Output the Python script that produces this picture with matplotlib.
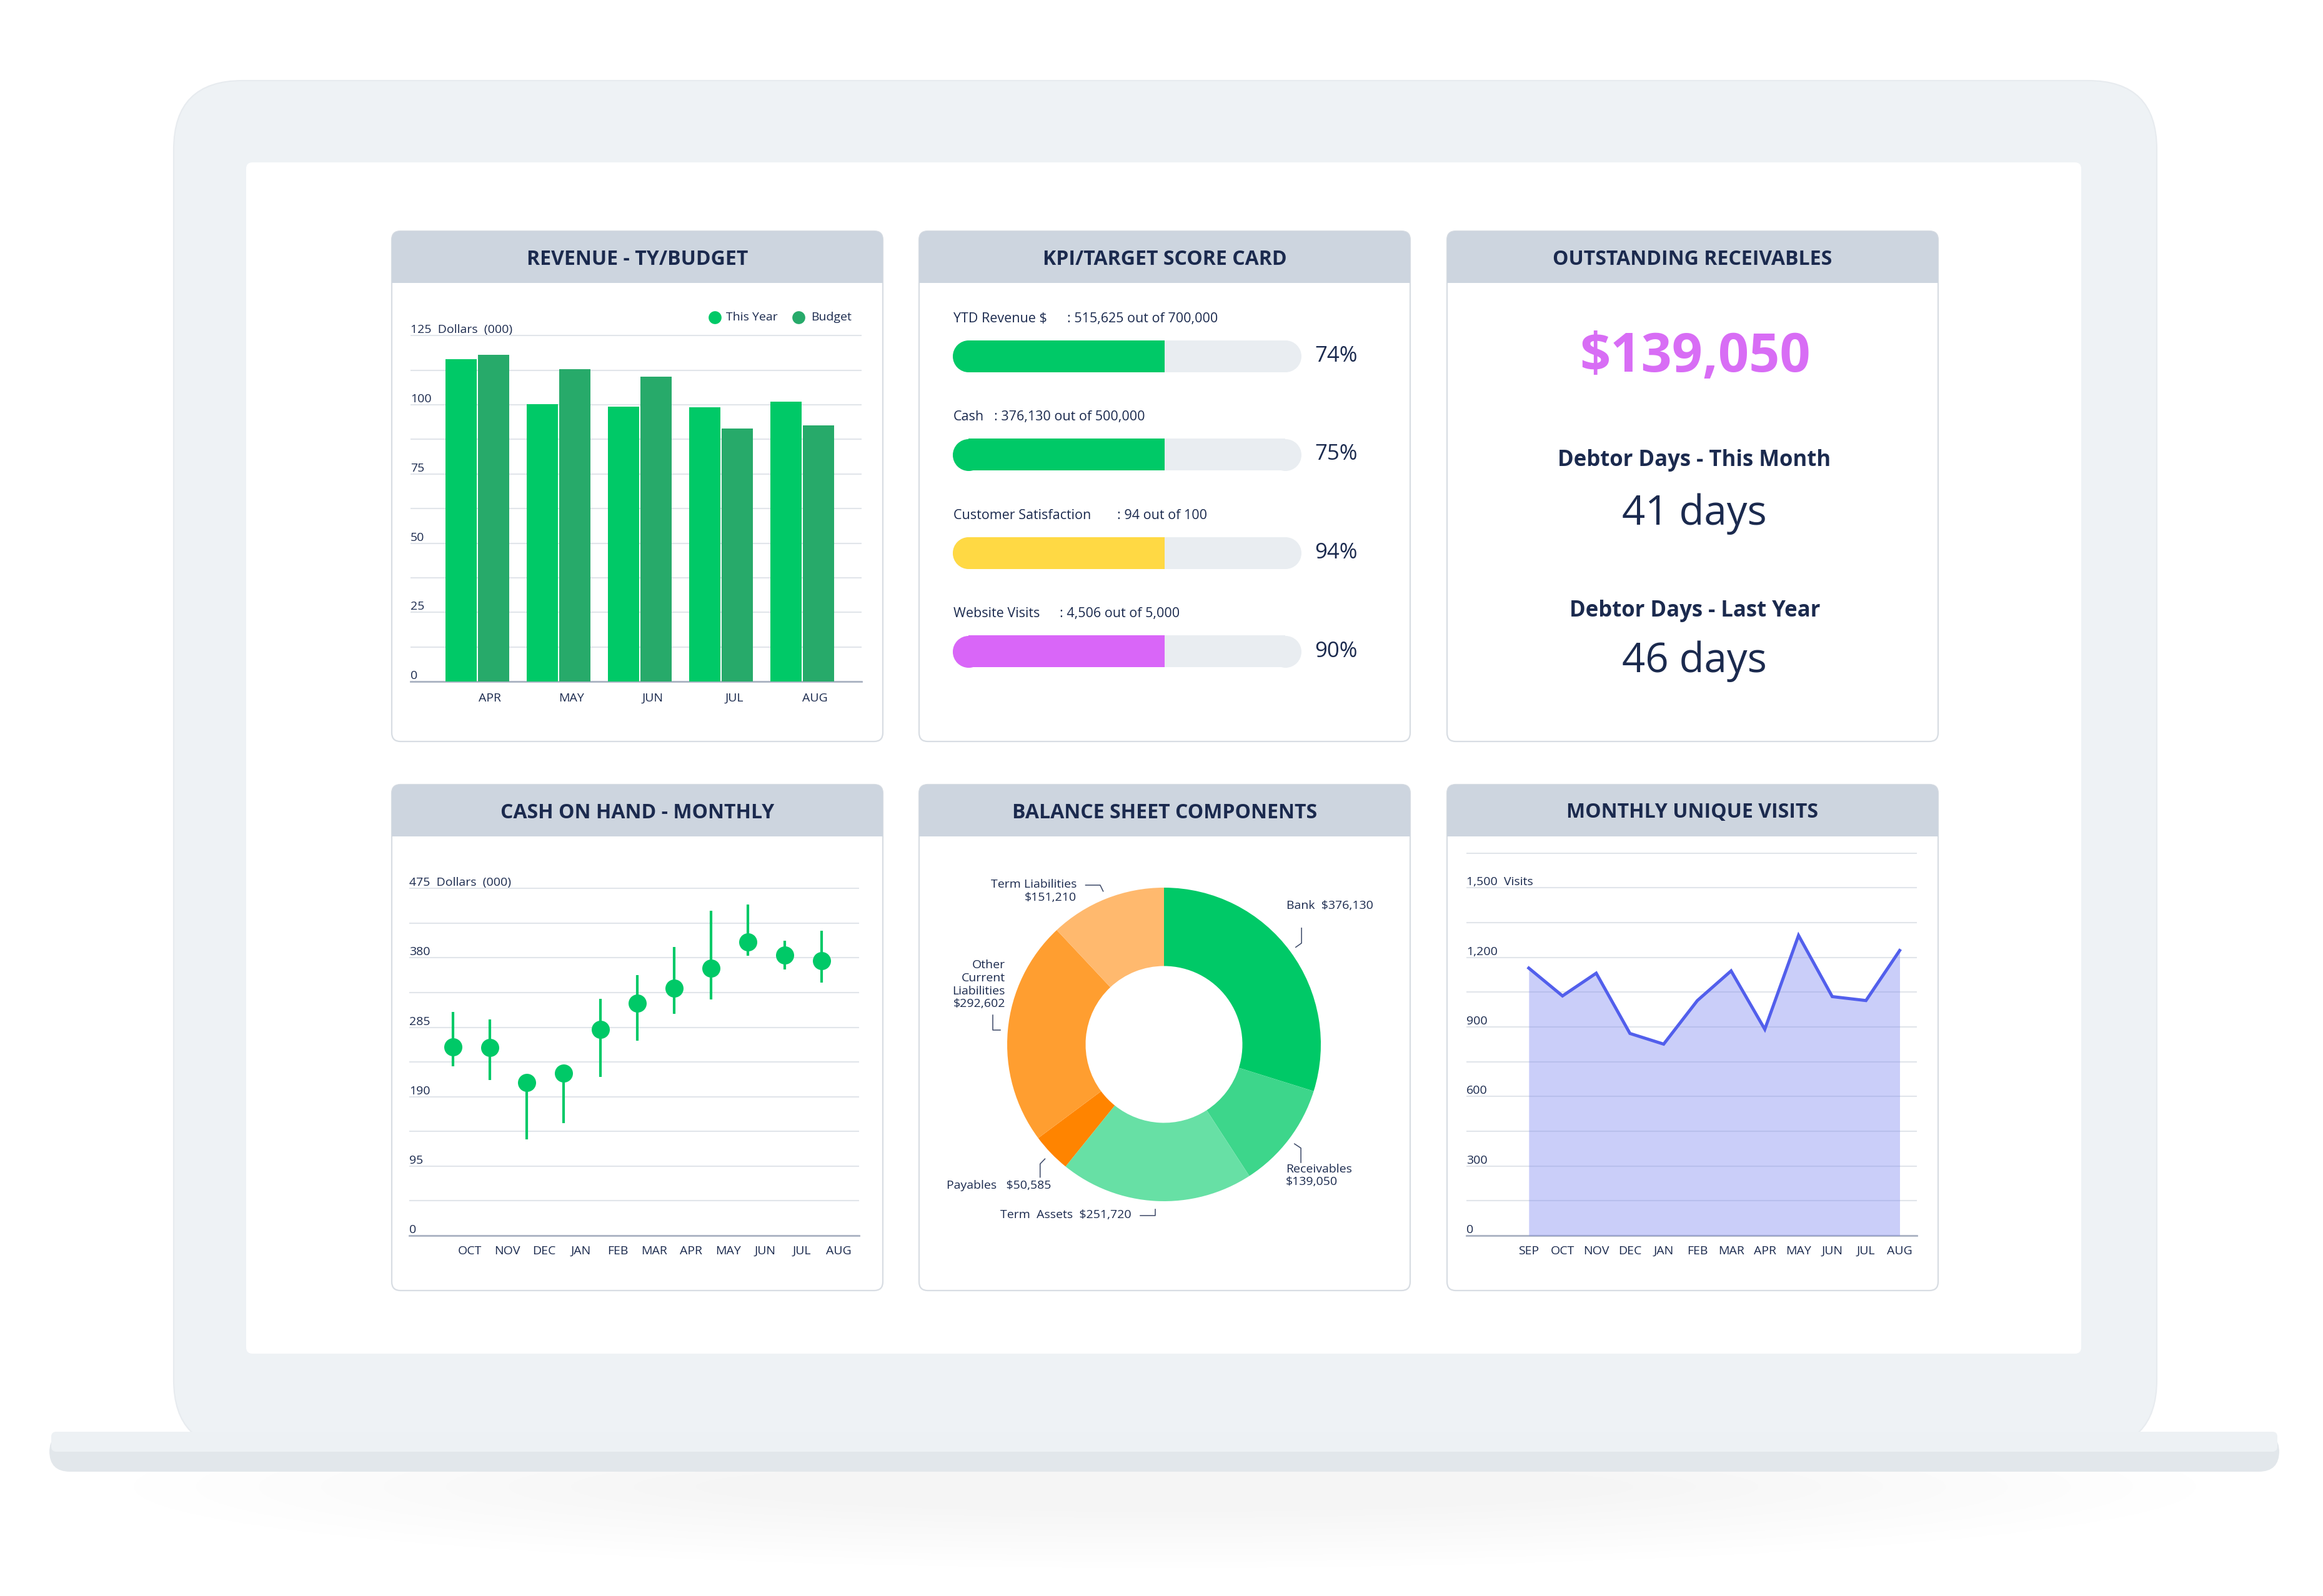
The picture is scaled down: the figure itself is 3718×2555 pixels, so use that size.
import numpy as np
import matplotlib.pyplot as plt
import matplotlib.transforms as mtransforms
from matplotlib.patches import FancyBboxPatch, Rectangle, Ellipse

plt.rcParams['font.family'] = ['Open Sans', 'DejaVu Sans']

# ---- data ----
rev_months = ['APR', 'MAY', 'JUN', 'JUL', 'AUG']
rev_this_year = [116.6, 100.2, 99.3, 99.2, 101.1]
rev_budget = [118.1, 112.9, 110.2, 91.4, 92.5]

kpi_names = ['YTD Revenue $', 'Cash', 'Customer Satisfaction', 'Website Visits']
kpi_actual = [515625, 376130, 94, 4506]
kpi_target = [700000, 500000, 100, 5000]
kpi_colors = ['#00c967', '#00c967', '#ffd944', '#d966f8']
kpi_bar_shown = [0.61, 0.61, 0.61, 0.61]  # fill length as drawn on the card

receivables_total = 139050
debtor_days_month = 41
debtor_days_last_year = 46

cash_months = ['OCT', 'NOV', 'DEC', 'JAN', 'FEB', 'MAR', 'APR', 'MAY', 'JUN', 'JUL', 'AUG']
cash_mid = [258, 257, 209, 222, 282, 318, 338, 366, 402, 384, 376]
cash_high = [306, 296, 209, 222, 324, 356, 395, 444, 453, 403, 417]
cash_low = [232, 213, 132, 154, 217, 267, 303, 323, 383, 364, 346]

bs_names = ['Bank', 'Receivables', 'Term Assets', 'Payables', 'Other Current Liabilities', 'Term Liabilities']
bs_values = [376130, 139050, 251720, 50585, 292602, 151210]
bs_colors = ['#00c967', '#3dd68b', '#67e0a5', '#ff8400', '#ff9e30', '#ffb96e']

visit_months = ['SEP', 'OCT', 'NOV', 'DEC', 'JAN', 'FEB', 'MAR', 'APR', 'MAY', 'JUN', 'JUL', 'AUG']
visits = [1154, 1034, 1132, 872, 826, 1014, 1142, 890, 1295, 1031, 1014, 1230]

# ---- style ----
W, H = 3718, 2555
NAVY = '#1b2a4e'
GRID = '#e1e5ea'
AXIS = '#aab2c2'
HEADER = '#cdd5df'
GREEN = '#00c967'
BUDGET = '#27aa6a'

fig = plt.figure(figsize=(W / 100, H / 100), dpi=100)
bg = fig.add_axes([0, 0, 1, 1])
bg.set_xlim(0, W)
bg.set_ylim(H, 0)
bg.axis('off')


def add_ax(x0, y0, x1, y1):
    a = fig.add_axes([x0 / W, 1 - y1 / H, (x1 - x0) / W, (y1 - y0) / H])
    a.patch.set_alpha(0)
    return a


def rbox(x, y, w, h, r, **kw):
    p = FancyBboxPatch((x, y), w, h, boxstyle=f'round,pad=0,rounding_size={r}', **kw)
    bg.add_patch(p)
    return p


# laptop shadow, frame, base, screen
for i in range(10):
    bg.add_patch(Ellipse((1864, 2380), 3300 - i * 200, 260 - i * 20,
                         fc='#9aa5b0', ec='none', alpha=0.008))
rbox(278, 129, 3174, 2190, 110, fc='#eef2f5', ec='#e7ebef', lw=1.5)
rbox(79, 2292, 3569, 64, 33, fc='#e2e7eb', ec='none')
rbox(82, 2292, 3563, 32, 8, fc='#edf1f4', ec='none')
rbox(394, 260, 2937, 1907, 10, fc='white', ec='none')

# panels
col_x = [627, 1471, 2316]
row_y = [370, 1256]
row_h = [817, 810]
PW, HH = 786, 83
titles = [['REVENUE - TY/BUDGET', 'KPI/TARGET SCORE CARD', 'OUTSTANDING RECEIVABLES'],
          ['CASH ON HAND - MONTHLY', 'BALANCE SHEET COMPONENTS', 'MONTHLY UNIQUE VISITS']]
for r in range(2):
    for c in range(3):
        x, y = col_x[c], row_y[r]
        rbox(x, y, PW, row_h[r], 14, fc='white', ec='#d8dde3', lw=1.6)
        rbox(x, y, PW, HH, 14, fc=HEADER, ec='none')
        bg.add_patch(Rectangle((x, y + 40), PW, HH - 40, fc=HEADER, ec='none'))
        bg.text(x + PW / 2, y + 45, titles[r][c], ha='center', va='center',
                fontsize=23, fontweight='bold', color=NAVY)


def style(ax, grid_ticks):
    ax.set_yticks(grid_ticks)
    ax.set_xticks([])
    ax.tick_params(length=0, labelleft=False, labelbottom=False)
    ax.grid(axis='y', color=GRID, lw=1.5)
    ax.set_axisbelow(True)
    for s in ['top', 'right', 'left']:
        ax.spines[s].set_visible(False)
    ax.spines['bottom'].set_color(AXIS)
    ax.spines['bottom'].set_linewidth(2)


def ylabels(ax, ticks, labels):
    tr = mtransforms.blended_transform_factory(ax.transAxes, ax.transData)
    for v, s in zip(ticks, labels):
        ax.text(0, v, s, transform=tr, ha='left', va='bottom', fontsize=14, color=NAVY)


def xlabels(ax, xs, labels, dy):
    tr = mtransforms.blended_transform_factory(ax.transData, ax.transAxes)
    for x, s in zip(xs, labels):
        ax.text(x, -dy, s, transform=tr, ha='center', va='center', fontsize=14, color=NAVY)


# ---- revenue bars ----
ax = add_ax(657, 536, 1379, 1091)
x = np.arange(len(rev_months))
ax.bar(x - 0.2, rev_this_year, 0.383, color=GREEN, zorder=3)
ax.bar(x + 0.2, rev_budget, 0.383, color=BUDGET, zorder=3)
ax.set_xlim(-0.82, 4.73)
ax.set_ylim(0, 125.3)
style(ax, np.arange(0, 126, 12.5))
ticks = [0, 25, 50, 75, 100, 125]
ylabels(ax, ticks, [str(t) for t in ticks[:-1]] + ['125  Dollars  (000)'])
xlabels(ax, x + 0.16, rev_months, 27 / 555)
for lx, tx, lab, col in [(0.6745, 0.6994, 'This Year', GREEN), (0.860, 0.888, 'Budget', BUDGET)]:
    ax.scatter([lx], [1.0505], s=222, color=col, transform=ax.transAxes, clip_on=False, lw=0)
    ax.text(tx, 1.0505, lab, transform=ax.transAxes, va='center', ha='left', fontsize=14, color=NAVY)

# ---- KPI score card ----
ax = add_ax(1524, 440, 2082, 1120)
ax.set_xlim(0, 1)
ax.set_ylim((1120 - 570) / 157.5, (440 - 570) / 157.5)
ax.axis('off')
bh = 51 / 157.5
ru = 25.5 / 558
dot = (51 * 0.72) ** 2
TRACK = '#e9edf1'
value_x = [1708, 1591, 1788, 1696]
for i, (name, a, t, col, f) in enumerate(zip(kpi_names, kpi_actual, kpi_target, kpi_colors, kpi_bar_shown)):
    ax.barh(i, 1 - 2 * ru, left=ru, height=bh, color=TRACK, zorder=1)
    ax.scatter([ru, 1 - ru], [i, i], s=dot, color=TRACK, lw=0, zorder=1)
    ax.barh(i, f - ru, left=ru, height=bh, color=col, zorder=2)
    ax.scatter([ru], [i], s=dot, color=col, lw=0, zorder=2)
    ax.text(0.004, i - 0.38, name, va='center', ha='left', fontsize=15.5, color=NAVY)
    ax.text((value_x[i] - 1524) / 558, i - 0.38, f': {a:,} out of {t:,}',
            va='center', ha='left', fontsize=15.5, color=NAVY)
    ax.text(1.04, i, f'{round(100 * a / t)}%', va='center', ha='left', fontsize=25, color=NAVY)

# ---- outstanding receivables ----
bg.text(2713, 572, f'${receivables_total:,}', ha='center', va='center',
        fontsize=62, fontweight='bold', color='#d86df5')
bg.text(2712, 737, 'Debtor Days - This Month', ha='center', va='center',
        fontsize=25, fontweight='bold', color=NAVY)
bg.text(2712, 823, f'{debtor_days_month} days', ha='center', va='center', fontsize=47, color=NAVY)
bg.text(2713, 978, 'Debtor Days - Last Year', ha='center', va='center',
        fontsize=25, fontweight='bold', color=NAVY)
bg.text(2712, 1059, f'{debtor_days_last_year} days', ha='center', va='center', fontsize=47, color=NAVY)

# ---- cash on hand ----
ax = add_ax(655, 1421, 1375, 1978)
xc = np.arange(len(cash_months))
ax.vlines(xc, cash_low, cash_high, color=GREEN, lw=3, zorder=3)
ax.scatter(xc, cash_mid, s=(29 * 0.72) ** 2, color=GREEN, lw=0, zorder=4)
ax.set_xlim(-1.18, 11.02)
ax.set_ylim(0, 476)
style(ax, np.arange(0, 476, 47.5))
ticks = [0, 95, 190, 285, 380, 475]
ylabels(ax, ticks, [str(t) for t in ticks[:-1]] + ['475  Dollars  (000)'])
xlabels(ax, xc + 0.47, cash_months, 25 / 557)

# ---- balance sheet donut ----
ax = add_ax(1471, 1338, 2257, 2066)
ax.pie(bs_values, colors=bs_colors, startangle=90, counterclock=False, radius=1,
       wedgeprops=dict(width=0.5, linewidth=0))
ax.set_xlim((1471 - 1863) / 251, (2257 - 1863) / 251)
ax.set_ylim((1672 - 2066) / 251, (1672 - 1338) / 251)
ax.set_aspect('auto')
money = [f'${v:,}' for v in bs_values]
bs_labels = [
    ('Bank  ' + money[0], 0.781, 0.884, 'left', [(0.877, 0.742), (0.877, 0.646), (0.840, 0.620)]),
    ('Receivables\n' + money[1], 0.777, -0.837, 'left', [(0.832, -0.634), (0.873, -0.661), (0.873, -0.753)]),
    ('Term  Assets  ' + money[2], -0.207, -1.088, 'right', [(-0.152, -1.093), (-0.057, -1.093), (-0.057, -1.050)]),
    ('Payables   ' + money[3], -1.386, -0.900, 'left', [(-0.790, -0.847), (-0.790, -0.762), (-0.759, -0.730)]),
    ('Other\nCurrent\nLiabilities\n' + money[4], -1.012, 0.382, 'right', [(-1.092, 0.188), (-1.092, 0.092), (-1.045, 0.092)]),
    ('Term Liabilities\n' + money[5], -0.558, 0.978, 'right', [(-0.500, 1.016), (-0.407, 1.016), (-0.388, 0.977)]),
]
for txt, tx, ty, ha, pts in bs_labels:
    ax.text(tx, ty, txt, ha=ha, va='center', fontsize=14, color=NAVY, linespacing=1.2,
            multialignment=ha)
    px, py = zip(*pts)
    ax.plot(px, py, color='#3a4766', lw=1.1)

# ---- monthly unique visits ----
ax = add_ax(2347, 1365, 3068, 1978)
xv = np.arange(len(visit_months))
ax.fill_between(xv, 0, visits, color='#7b86f0', alpha=0.4, lw=0, zorder=3)
ax.plot(xv, visits, color='#525fec', lw=3.6, zorder=4, solid_joinstyle='miter')
ax.set_xlim(-1.85, 11.51)
ax.set_ylim(0, 1652)
style(ax, np.arange(0, 1651, 150))
ticks = [0, 300, 600, 900, 1200, 1500]
ylabels(ax, ticks, [f'{t:,}' for t in ticks[:-1]] + ['1,500  Visits'])
xlabels(ax, xv, visit_months, 25 / 613)

fig.savefig('out.png', dpi=100)
